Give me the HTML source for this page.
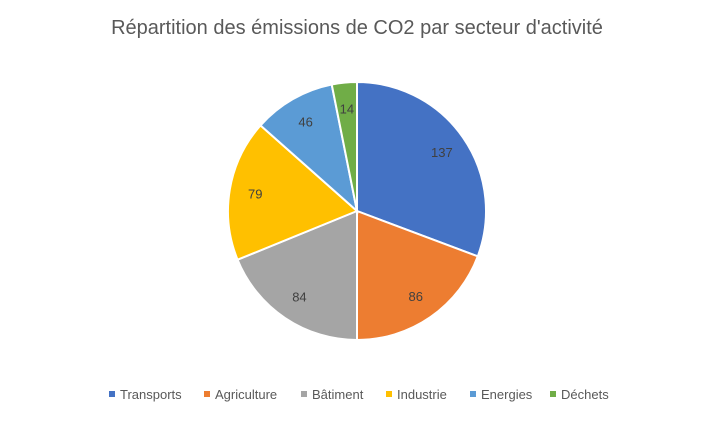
<!DOCTYPE html>
<html><head><meta charset="utf-8"><style>
body{margin:0;background:#fff;width:716px;height:417px;overflow:hidden;font-family:"Liberation Sans",sans-serif}
</style></head><body>
<svg width="716" height="417" id="chart">
<text x="357" y="34" text-anchor="middle" font-size="20" fill="#595959">Répartition des émissions de CO2 par secteur d'activité</text>
<g id="slices"></g><g id="labels"></g><g id="legend"></g>
</svg>
<script>
const categories=["Transports","Agriculture","Bâtiment","Industrie","Energies","Déchets"];
const values=[137,86,84,79,46,14];
const colors=["#4472C4","#ED7D31","#A5A5A5","#FFC000","#5B9BD5","#70AD47"];
const legendX=[112,207,304,389,473,553];
const cx=357,cy=211,r=129,ns="http://www.w3.org/2000/svg";
const total=values.reduce((a,b)=>a+b,0);
let a0=0;
const S=document.getElementById('slices'),L=document.getElementById('labels'),G=document.getElementById('legend');
function pt(a,rr){return [cx+rr*Math.sin(a),cy-rr*Math.cos(a)];}
values.forEach((v,i)=>{
 const a1=a0+v/total*2*Math.PI;
 const p0=pt(a0,r),p1=pt(a1,r);
 const p=document.createElementNS(ns,'path');
 p.setAttribute('d',`M${cx},${cy}L${p0[0]},${p0[1]}A${r},${r} 0 ${a1-a0>Math.PI?1:0} 1 ${p1[0]},${p1[1]}Z`);
 p.setAttribute('fill',colors[i]);p.setAttribute('stroke','#fff');p.setAttribute('stroke-width','2');
 
 
 S.appendChild(p);
 const m=(a0+a1)/2,lp=pt(m,r*0.8);
 const t=document.createElementNS(ns,'text');
 t.setAttribute('x',lp[0]);t.setAttribute('y',lp[1]+5);t.setAttribute('text-anchor','middle');
 t.setAttribute('font-size','13');t.setAttribute('fill','#404040');t.textContent=v;
 
 
 L.appendChild(t);
 const g=document.createElementNS(ns,'g');
 
 
 const rc=document.createElementNS(ns,'rect');
 rc.setAttribute('x',legendX[i]-3);rc.setAttribute('y',391);rc.setAttribute('width',6);rc.setAttribute('height',6);rc.setAttribute('fill',colors[i]);
 const lt=document.createElementNS(ns,'text');
 lt.setAttribute('x',legendX[i]+8);lt.setAttribute('y',399);lt.setAttribute('font-size','13');lt.setAttribute('fill','#595959');lt.textContent=categories[i];
 g.appendChild(rc);g.appendChild(lt);G.appendChild(g);
 a0=a1;
});
</script>
</body></html>
